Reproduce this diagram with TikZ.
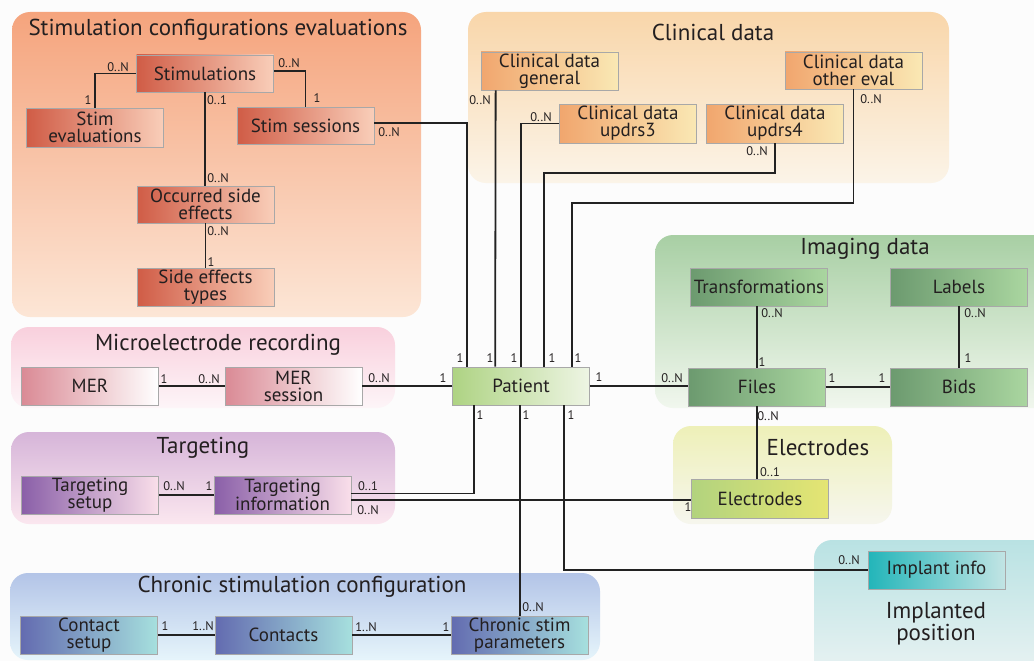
\documentclass[tikz,border=0pt]{standalone}
\usepackage{fontspec}
\setmainfont{PT Sans}
\definecolor{txt}{HTML}{231F20}
\definecolor{lineclr}{HTML}{222222}
\definecolor{bord}{HTML}{A8A8A8}
\definecolor{bgc}{HTML}{FCFCFC}
\definecolor{stimL}{HTML}{D05C46}\definecolor{stimR}{HTML}{F9CEB9}
\definecolor{clinL}{HTML}{F1A66E}\definecolor{clinR}{HTML}{FAE8B4}
\definecolor{imgL}{HTML}{6C9A6F}\definecolor{imgR}{HTML}{AAD6A0}
\definecolor{patL}{HTML}{AED383}\definecolor{patR}{HTML}{EEF5E4}
\definecolor{merL}{HTML}{DA8A95}\definecolor{merR}{HTML}{FFFFFF}
\definecolor{tgtL}{HTML}{8A5FA8}\definecolor{tgtR}{HTML}{FADFEA}
\definecolor{elecL}{HTML}{B2D37E}\definecolor{elecR}{HTML}{E5E573}
\definecolor{implL}{HTML}{22B5B9}\definecolor{implR}{HTML}{C2E4E4}
\definecolor{chrL}{HTML}{636BB0}\definecolor{chrR}{HTML}{A6E0DE}
\definecolor{g1T}{HTML}{F5A47D}\definecolor{g1B}{HTML}{FCE6D6}
\definecolor{g2T}{HTML}{F9D6AA}\definecolor{g2B}{HTML}{FBF4E8}
\definecolor{g3T}{HTML}{A8CFA4}\definecolor{g3B}{HTML}{F1F7EE}
\definecolor{g4T}{HTML}{F9D0DD}\definecolor{g4B}{HTML}{FDF5F8}
\definecolor{g5T}{HTML}{D6B5D9}\definecolor{g5B}{HTML}{FBE7EF}
\definecolor{g6T}{HTML}{EEF0B8}\definecolor{g6B}{HTML}{F6F6EE}
\definecolor{g7T}{HTML}{B3C4E7}\definecolor{g7B}{HTML}{E6F5FB}
\definecolor{g8T}{HTML}{B9E2E3}\definecolor{g8B}{HTML}{EEF4F4}
\begin{document}
\begin{tikzpicture}[x=1pt,y=-1pt,
  grp/.style={rounded corners=18pt},
  box/.style={draw=bord, line width=0.7pt, inner sep=0pt, align=center, text=txt,
     minimum width=137pt, minimum height=38pt, font=\fontsize{19}{17}\selectfont},
  card/.style={inner sep=0pt, text=txt, font=\fontsize{12.5}{13}\selectfont},
  conn/.style={line width=1.8pt, draw=lineclr},
  gtitle/.style={inner sep=0pt, text=txt, align=center, font=\fontsize{23}{22}\selectfont},
  stimbox/.style={box, left color=stimL, right color=stimR},
  clinbox/.style={box, left color=clinL, right color=clinR},
  imgbox/.style={box, left color=imgL, right color=imgR},
  patbox/.style={box, left color=patL, right color=patR},
  merbox/.style={box, left color=merL, right color=merR},
  tgtbox/.style={box, left color=tgtL, right color=tgtR},
  elecbox/.style={box, left color=elecL, right color=elecR},
  implbox/.style={box, left color=implL, right color=implR},
  chrbox/.style={box, left color=chrL, right color=chrR},
]
\useasboundingbox (0,0) rectangle (1034,661);
\clip (0,0) rectangle (1034,661);
\fill[bgc] (0,0) rectangle (1034,661);

% groups
\path[grp, top color=g1T, bottom color=g1B] (12,12) rectangle (421,317);
\path[grp, top color=g2T, bottom color=g2B] (468,12) rectangle (949,183);
\path[grp, top color=g3T, bottom color=g3B] (655,235) rectangle (1060,408);
\path[grp, top color=g4T, bottom color=g4B] (11,327) rectangle (395,408);
\path[grp, top color=g5T, bottom color=g5B] (11,432) rectangle (395,524);
\path[grp, top color=g6T, bottom color=g6B] (673,426) rectangle (892,524);
\path[grp, top color=g7T, bottom color=g7B] (10,573) rectangle (600,660);
\path[grp, top color=g8T, bottom color=g8B] (814,540) rectangle (1060,690);

% titles
\node[gtitle] (t1) at (218,30) {Stimulation configurations evaluations};
\node[gtitle] (t2) at (713,32) {Clinical data};
\node[gtitle] (t3) at (865,249) {Imaging data};
\node[gtitle] (t4) at (218,345) {Microelectrode recording};
\node[gtitle] (t5) at (203,448) {Targeting};
\node[gtitle] (t6) at (818,448) {Electrodes};
\node[gtitle] (t7) at (302,587) {Chronic stimulation configuration};
\node[gtitle] (t8) at (936,624) {Implanted\\position};

% boxes
\node[stimbox, minimum height=37pt] (stim) at (205,73.5) {Stimulations};
\node[stimbox, minimum height=39pt] (seval) at (95,127.5) {Stim\\evaluations};
\node[stimbox, minimum height=37pt] (ssess) at (305.5,125.5) {Stim sessions};
\node[stimbox, minimum height=37pt] (occ) at (205.5,204.5) {Occurred side\\effects};
\node[stimbox] (setypes) at (205.5,287) {Side effects\\types};

\node[clinbox] (gen) at (549.5,71) {Clinical data\\general};
\node[clinbox, minimum height=39pt] (u3) at (628,123.5) {Clinical data\\updrs3};
\node[clinbox, minimum height=39pt] (u4) at (775,123.5) {Clinical data\\updrs4};
\node[clinbox, minimum height=37pt] (oth) at (853.5,70.5) {Clinical data\\other eval};

\node[imgbox] (trans) at (759,287) {Transformations};
\node[imgbox] (labels) at (959,287) {Labels};
\node[imgbox] (files) at (757,387) {Files};
\node[imgbox] (bids) at (959,387) {Bids};

\node[patbox] (pat) at (521,386) {Patient};
\node[merbox] (mer) at (90,386) {MER};
\node[merbox] (mers) at (293.5,386) {MER\\session};
\node[tgtbox] (tset) at (90,495) {Targeting\\setup};
\node[tgtbox] (tinf) at (282.5,495) {Targeting\\information};
\node[elecbox, minimum height=39pt] (elec) at (760,498.5) {Electrodes};
\node[implbox] (impl) at (936.5,570) {Implant info};
\node[chrbox] (cset) at (89,635) {Contact\\setup};
\node[chrbox] (cont) at (283.5,635) {Contacts};
\node[chrbox] (chron) at (519.5,635) {Chronic stim\\parameters};

% connectors
\draw[conn] (stim.west) -| (seval.north);
\draw[conn] ([yshift=2.5pt]stim.east) -| (ssess.north);
\draw[conn] (stim.south) -- (stim.south |- occ.north);
\draw[conn] (occ.south) -- (setypes.north);
\draw[conn] ([yshift=2.5pt]ssess.east) -| ([xshift=15pt]pat.north west);
\draw[conn] ([xshift=15pt]gen.south west) -- ([xshift=43pt]pat.north west);
\draw[conn] (u3.west) -| ([xshift=69pt]pat.north west);
\draw[conn] (u4.south) -- ++(0,29.5) -| ([xshift=92pt]pat.north west);
\draw[conn] (oth.south) -- ++(0,114) -| ([xshift=120pt]pat.north west);
\draw[conn] (pat.west) -- (mers.east);
\draw[conn] (mer.east) -- (mers.west);
\draw[conn] (pat.east) -- (pat.east -| files.west);
\draw[conn] (files.east) -- (bids.west);
\draw[conn] (trans.south -| files.north) -- (files.north);
\draw[conn] (labels.south) -- (bids.north);
\draw[conn] (files.south) -- (files.south |- elec.north);
\draw[conn] ([xshift=22pt]pat.south west) |- ([yshift=1.5pt]tinf.east);
\draw[conn] ([yshift=-5pt]tinf.east) -- ([yshift=-5pt]tinf.east -| elec.west);
\draw[conn] (tset.east) -- (tinf.west);
\draw[conn] ([xshift=68pt]pat.south west) -- ([xshift=68pt]pat.south west |- chron.north);
\draw[conn] ([xshift=112pt]pat.south west) |- (impl.west);
\draw[conn] (cset.east) -- (cont.west);
\draw[conn] (cont.east) -- (chron.west);

% cardinalities
\foreach \n/\x/\y/\t in {
 c1/118/67/0..N, c2/88/100/1, c3/289/63/0..N, c4/317/98/1, c5/217/100/0..1,
 c6/218/178/0..N, c7/218/231/0..N, c8/211/262/1, c9/389/132/0..N, c10/460/358/1,
 c11/480/100/0..N, c12/490/358/1, c13/541/117/0..N, c14/514/358/1, c15/757/151/0..N,
 c16/552/358/1, c17/871/99/0..N, c18/578/358/1, c19/443/378/1, c20/379/378/0..N,
 c21/164/379/1, c22/209/379/0..N, c23/599/377/1, c24/672/378/0..N, c25/832/378/1,
 c26/882/378/1, c27/772/313/0..N, c28/762/362/1, c29/975/313/0..N, c30/968/358/1,
 c31/768/416/0..N, c32/770/472/0..1, c33/480/415/1, c34/526/415/1, c35/571/415/1,
 c36/368/486/0..1, c37/368/510/0..N, c38/174/486/0..N, c39/209/486/1, c40/688/507/1,
 c41/533/607/0..N, c42/849/560/0..N, c43/165/626/1, c44/203/626/1..N, c45/366/627/1..N,
 c46/446/627/1}
 \node[card] (\n) at (\x,\y) {\t};
\end{tikzpicture}
\end{document}
